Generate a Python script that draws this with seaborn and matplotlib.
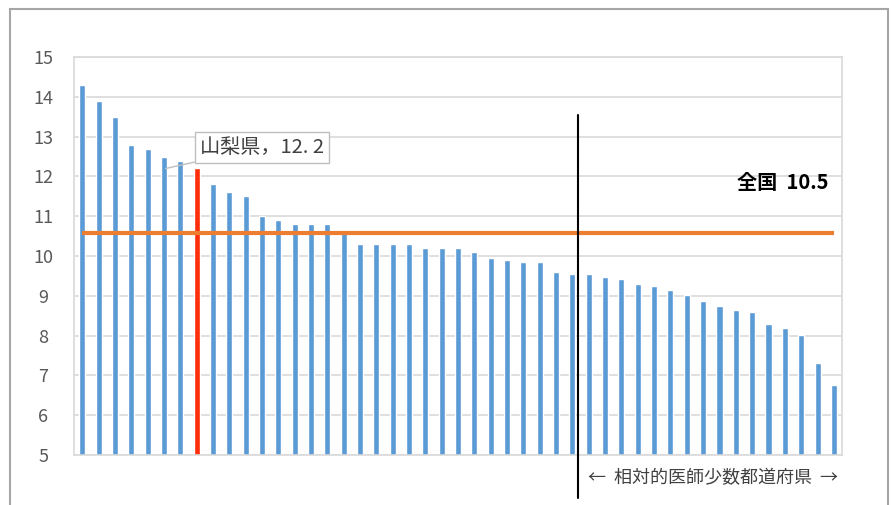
import matplotlib
matplotlib.use("Agg")
import matplotlib.pyplot as plt
import seaborn as sns
import pandas as pd
from matplotlib.patches import Rectangle

# 都道府県別の値（降順）、山梨県は8番目
values = [14.3, 13.9, 13.5, 12.8, 12.7, 12.5, 12.4, 12.2, 11.8, 11.6,
          11.5, 11.0, 10.9, 10.8, 10.8, 10.8, 10.6, 10.3, 10.3, 10.3,
          10.3, 10.2, 10.2, 10.2, 10.1, 9.95, 9.9, 9.85, 9.85, 9.6,
          9.55, 9.55, 9.48, 9.43, 9.29, 9.25, 9.15, 9.01, 8.88, 8.74,
          8.64, 8.6, 8.29, 8.19, 8.01, 7.32, 6.76]
ranks = [str(i + 1) for i in range(len(values))]
highlight_idx = 7
highlight_label = "山梨県，12. 2"
national_value = 10.58
national_label = "全国  10.5"
split_pos = 30.35
split_label = "←  相対的医師少数都道府県  →"

blue = "#5B9BD5"
red = "#FF2D0A"
orange = "#ED7D31"
grid = "#D9D9D9"

sns.set_theme(style="white")
plt.rcParams["font.family"] = ["Noto Sans CJK JP", "DejaVu Sans"]

df = pd.DataFrame({"rank": ranks, "value": values})
colors = [red if i == highlight_idx else blue for i in range(len(values))]

fig = plt.figure(figsize=(8.92, 5.05), dpi=100)
ax = fig.add_axes([0.083, 0.099, 0.861, 0.788])

sns.barplot(data=df, x="rank", y="value", hue="rank", palette=colors,
            legend=False, width=0.37, saturation=1, ax=ax)

ax.set_ylim(5, 15)
ax.set_xlim(-0.5, len(values) - 0.5)
ax.set_yticks(range(5, 16))
ax.yaxis.grid(True, color=grid, linewidth=1.2)
ax.set_axisbelow(True)
for s in ax.spines.values():
    s.set_color(grid)
    s.set_linewidth(1.2)
ax.set_xticks([])
ax.set_xlabel("")
ax.set_ylabel("")
ax.tick_params(axis="y", length=0, pad=22, labelsize=13, labelcolor="#595959")
for t in ax.get_yticklabels():
    t.set_horizontalalignment("center")

# 全国平均線
ax.plot([0, len(values) - 1], [national_value, national_value],
        color=orange, linewidth=3, solid_capstyle="butt", zorder=3)
ax.text(len(values) - 1.3, 11.84, national_label, ha="right", va="center",
        fontsize=14.5, fontweight="bold", color="black")

# 区切り線
ax.plot([split_pos, split_pos], [3.93, 13.55], color="black", linewidth=1.5,
        clip_on=False, zorder=4)
ax.text(split_pos + 0.6, 4.43, split_label, ha="left", va="center",
        fontsize=13, color="#404040")

# 山梨県ラベル
ax.annotate(highlight_label, xy=(5.1, 12.2), xytext=(7.2, 12.73),
            ha="left", va="center", fontsize=14.5, color="#404040",
            bbox=dict(boxstyle="square,pad=0.25", fc="white", ec="#BFBFBF", lw=1),
            arrowprops=dict(arrowstyle="-", color="#BFBFBF", lw=1,
                            shrinkA=0, shrinkB=0))

# 外枠
fig.patches.append(Rectangle((10 / 892, -0.1), 878 / 892, 1.1 - 9 / 505,
                             transform=fig.transFigure, fill=False,
                             ec="#A6A6A6", lw=1.5))

fig.savefig("out.png", dpi=100)
